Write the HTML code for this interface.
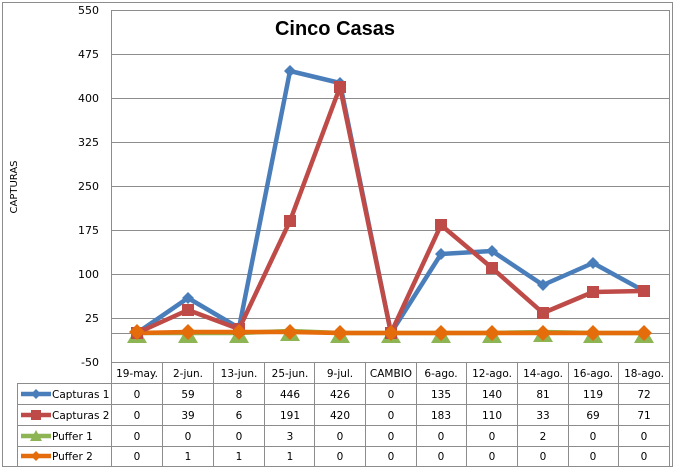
<!DOCTYPE html>
<html><head><meta charset="utf-8"><style>
html,body{margin:0;padding:0;background:#fff;}
svg{display:block;font-family:"DejaVu Sans","Liberation Sans",sans-serif;}
</style></head><body>
<svg width="675" height="471" viewBox="0 0 675 471" xmlns="http://www.w3.org/2000/svg">
<rect x="2.5" y="2.5" width="670" height="464" fill="#fff" stroke="#8c8c8c" stroke-width="1"/>
<g stroke="#8c8c8c" stroke-width="1">
<line x1="112" y1="10.5" x2="669" y2="10.5"/>
<line x1="112" y1="54.5" x2="669" y2="54.5"/>
<line x1="112" y1="98.5" x2="669" y2="98.5"/>
<line x1="112" y1="142.5" x2="669" y2="142.5"/>
<line x1="112" y1="186.5" x2="669" y2="186.5"/>
<line x1="112" y1="230.5" x2="669" y2="230.5"/>
<line x1="112" y1="274.5" x2="669" y2="274.5"/>
<line x1="112" y1="318.5" x2="669" y2="318.5"/>
<line x1="112" y1="333.5" x2="669" y2="333.5"/>
<line x1="111.5" y1="10" x2="111.5" y2="466"/>
<line x1="669.5" y1="10" x2="669.5" y2="466"/>
<line x1="17" y1="383.5" x2="669" y2="383.5"/>
<line x1="17" y1="404.5" x2="669" y2="404.5"/>
<line x1="17" y1="425.5" x2="669" y2="425.5"/>
<line x1="17" y1="446.5" x2="669" y2="446.5"/>
<line x1="17" y1="466.5" x2="669" y2="466.5"/>
<line x1="112" y1="362.5" x2="669" y2="362.5"/>
<line x1="17.5" y1="383" x2="17.5" y2="466"/>
<line x1="162.5" y1="362" x2="162.5" y2="466"/>
<line x1="213.5" y1="362" x2="213.5" y2="466"/>
<line x1="264.5" y1="362" x2="264.5" y2="466"/>
<line x1="314.5" y1="362" x2="314.5" y2="466"/>
<line x1="365.5" y1="362" x2="365.5" y2="466"/>
<line x1="416.5" y1="362" x2="416.5" y2="466"/>
<line x1="466.5" y1="362" x2="466.5" y2="466"/>
<line x1="517.5" y1="362" x2="517.5" y2="466"/>
<line x1="568.5" y1="362" x2="568.5" y2="466"/>
<line x1="618.5" y1="362" x2="618.5" y2="466"/>
</g>
<g font-size="11" text-anchor="end" fill="#000">
<text x="99" y="14">550</text><text x="99" y="58">475</text><text x="99" y="102">400</text>
<text x="99" y="146">325</text><text x="99" y="190">250</text><text x="99" y="234">175</text>
<text x="99" y="278">100</text><text x="99" y="322">25</text><text x="99" y="366">-50</text>
</g>
<text transform="translate(17,187) rotate(-90)" font-size="10" text-anchor="middle">CAPTURAS</text>
<text x="335" y="35" font-family="'Liberation Sans',sans-serif" font-weight="bold" font-size="20" text-anchor="middle">Cinco Casas</text>
<g fill="none" stroke-width="4.5" stroke-linejoin="round">
<polyline stroke="#8eb553" points="137,333 188,333 239,333 290,331 340,333 391,333 441,333 492,333 543,332 593,333 644,333"/>
<polyline stroke="#e46c0a" points="137,333 188,332 239,332 290,332 340,333 391,333 441,333 492,333 543,333 593,333 644,333"/>
<polyline stroke="#4a7ebb" points="137,333 188,298 239,328 290,71 340,83 391,333 441,254 492,251 543,285 593,263 644,291"/>
<polyline stroke="#be4b48" points="137,333 188,310 239,329 290,221 340,87 391,333 441,225 492,268 543,313 593,292 644,291"/>
</g>
<g fill="#8eb553">
<path d="M137,326l10,17h-20z"/><path d="M188,326l10,17h-20z"/><path d="M239,326l10,17h-20z"/><path d="M290,324l10,17h-20z"/><path d="M340,326l10,17h-20z"/><path d="M391,326l10,17h-20z"/><path d="M441,326l10,17h-20z"/><path d="M492,326l10,17h-20z"/><path d="M543,325l10,17h-20z"/><path d="M593,326l10,17h-20z"/><path d="M644,326l10,17h-20z"/>
</g>
<g fill="#4a7ebb">
<path d="M137,327l6,6-6,6-6-6z"/><path d="M188,292l6,6-6,6-6-6z"/><path d="M239,322l6,6-6,6-6-6z"/><path d="M290,65l6,6-6,6-6-6z"/><path d="M340,77l6,6-6,6-6-6z"/><path d="M391,327l6,6-6,6-6-6z"/><path d="M441,248l6,6-6,6-6-6z"/><path d="M492,245l6,6-6,6-6-6z"/><path d="M543,279l6,6-6,6-6-6z"/><path d="M593,257l6,6-6,6-6-6z"/><path d="M644,285l6,6-6,6-6-6z"/>
</g>
<g fill="#be4b48">
<rect x="131" y="327" width="12" height="12"/><rect x="182" y="304" width="12" height="12"/><rect x="233" y="323" width="12" height="12"/><rect x="284" y="215" width="12" height="12"/><rect x="334" y="81" width="12" height="12"/><rect x="385" y="327" width="12" height="12"/><rect x="435" y="219" width="12" height="12"/><rect x="486" y="262" width="12" height="12"/><rect x="537" y="307" width="12" height="12"/><rect x="587" y="286" width="12" height="12"/><rect x="638" y="285" width="12" height="12"/>
</g>
<g fill="#e46c0a">
<path d="M137,324l8,8-8,8-8-8z"/><path d="M188,324l8,8-8,8-8-8z"/><path d="M239,324l8,8-8,8-8-8z"/><path d="M290,324l8,8-8,8-8-8z"/><path d="M340,325l8,8-8,8-8-8z"/><path d="M391,325l8,8-8,8-8-8z"/><path d="M441,325l8,8-8,8-8-8z"/><path d="M492,325l8,8-8,8-8-8z"/><path d="M543,325l8,8-8,8-8-8z"/><path d="M593,325l8,8-8,8-8-8z"/><path d="M644,325l8,8-8,8-8-8z"/>
</g>
<g font-size="10.5" text-anchor="middle" fill="#000">
<text x="137" y="377">19-may.</text><text x="188" y="377">2-jun.</text><text x="239" y="377">13-jun.</text><text x="290" y="377">25-jun.</text><text x="340" y="377">9-jul.</text><text x="391" y="377">CAMBIO</text><text x="441" y="377">6-ago.</text><text x="492" y="377">12-ago.</text><text x="543" y="377">14-ago.</text><text x="593" y="377">16-ago.</text><text x="644" y="377">18-ago.</text>
<text x="137" y="398">0</text><text x="188" y="398">59</text><text x="239" y="398">8</text><text x="290" y="398">446</text><text x="340" y="398">426</text><text x="391" y="398">0</text><text x="441" y="398">135</text><text x="492" y="398">140</text><text x="543" y="398">81</text><text x="593" y="398">119</text><text x="644" y="398">72</text>
<text x="137" y="419">0</text><text x="188" y="419">39</text><text x="239" y="419">6</text><text x="290" y="419">191</text><text x="340" y="419">420</text><text x="391" y="419">0</text><text x="441" y="419">183</text><text x="492" y="419">110</text><text x="543" y="419">33</text><text x="593" y="419">69</text><text x="644" y="419">71</text>
<text x="137" y="440">0</text><text x="188" y="440">0</text><text x="239" y="440">0</text><text x="290" y="440">3</text><text x="340" y="440">0</text><text x="391" y="440">0</text><text x="441" y="440">0</text><text x="492" y="440">0</text><text x="543" y="440">2</text><text x="593" y="440">0</text><text x="644" y="440">0</text>
<text x="137" y="460">0</text><text x="188" y="460">1</text><text x="239" y="460">1</text><text x="290" y="460">1</text><text x="340" y="460">0</text><text x="391" y="460">0</text><text x="441" y="460">0</text><text x="492" y="460">0</text><text x="543" y="460">0</text><text x="593" y="460">0</text><text x="644" y="460">0</text>
</g>
<g stroke-width="4.5">
<line x1="21" y1="394" x2="51" y2="394" stroke="#4a7ebb"/><path d="M36,389l5,5-5,5-5-5z" fill="#4a7ebb"/>
<line x1="21" y1="415" x2="51" y2="415" stroke="#be4b48"/><rect x="31" y="410" width="10" height="10" fill="#be4b48"/>
<line x1="21" y1="436" x2="51" y2="436" stroke="#8eb553"/><path d="M36,430l6,11h-12z" fill="#8eb553"/>
<line x1="21" y1="456" x2="51" y2="456" stroke="#e46c0a"/><path d="M36,451l5,5-5,5-5-5z" fill="#e46c0a"/>
</g>
<g font-size="10.5" fill="#000">
<text x="52" y="398">Capturas 1</text><text x="52" y="419">Capturas 2</text><text x="52" y="440">Puffer 1</text><text x="52" y="460">Puffer 2</text>
</g>
</svg>
</body></html>
